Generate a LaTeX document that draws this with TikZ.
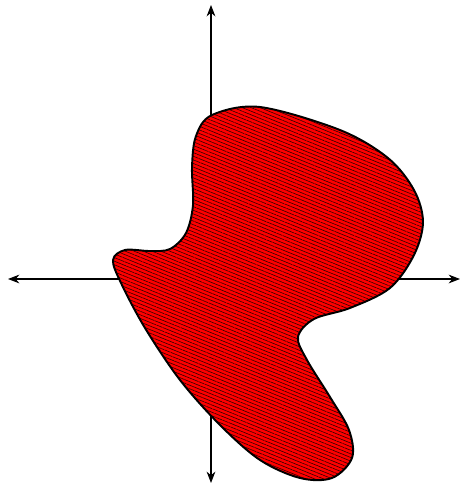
\documentclass[tikz,border=0pt]{standalone}
\usepackage{tikz}
\usetikzlibrary{arrows.meta,patterns.meta}

\begin{document}
\begin{tikzpicture}[
  x=0.02cm, y=-0.02cm,
  >={Stealth[length=6.5pt,width=5pt]},
  axisline/.style={<->, line width=0.6pt},
  blob/.style={
    draw=black,
    line width=1.1pt,
    preaction={fill=red},
    pattern={Lines[angle=-22,distance=1.9pt,line width=0.35pt]},
    pattern color=black!80!red
  }
]
  \useasboundingbox (0,0) rectangle (460,485);

  % axes
  \coordinate (xl) at (8,279);
  \coordinate (xr) at (460,279);
  \coordinate (yt) at (211,5);
  \coordinate (yb) at (211,483);
  \draw[axisline] (xl) -- (xr);
  \draw[axisline] (yb) -- (yt);

  % the region
  \draw[blob] plot[smooth cycle, tension=0.55] coordinates {
    (113,260) (125,250) (150,251) (170,249) (186,233) (193,205)
    (192,167) (196,136) (212,115) (260,107) (340,130) (388,158)
    (414,190) (423,222) (414,255) (390,288) (350,308) (314,319)
    (298,337) (307,360) (330,397) (349,430) (352,458) (332,478)
    (300,478) (260,460) (220,425) (180,380) (145,328) (121,283)
  };
\end{tikzpicture}
\end{document}
